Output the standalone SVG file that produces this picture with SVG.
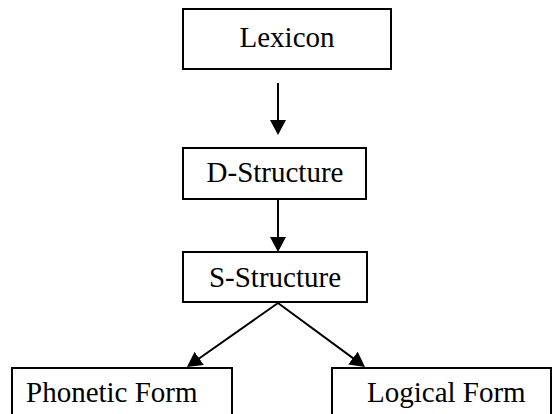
<svg xmlns="http://www.w3.org/2000/svg" width="553" height="414" viewBox="0 0 553 414">
  <style>
    .box { fill: #ffffff; stroke: #000000; stroke-width: 2; }
    .label { font-family: "Liberation Serif", "Times New Roman", serif; font-size: 29px; fill: #000000; }
    .edge { fill: none; stroke: #000000; stroke-width: 2; marker-end: url(#arrow); }
  </style>
  <defs>
    <!-- filled arrowhead; tip sits 4px past the line end -->
    <marker id="arrow" markerUnits="userSpaceOnUse" markerWidth="16" markerHeight="16" viewBox="0 0 16 16" refX="11" refY="8" orient="auto">
      <path d="M0,0 L15,8 L0,16 Z" fill="#000000"/>
    </marker>
  </defs>
  <rect width="553" height="414" fill="#ffffff"/>

  <g id="lexicon">
    <rect class="box" x="183" y="9" width="208" height="60"/>
    <text class="label" x="287" y="47" text-anchor="middle">Lexicon</text>
  </g>

  <g id="d-structure">
    <rect class="box" x="183" y="148" width="183" height="51"/>
    <text class="label" x="275" y="182" text-anchor="middle">D-Structure</text>
  </g>

  <g id="s-structure">
    <rect class="box" x="183" y="252" width="184" height="50"/>
    <text class="label" x="275" y="287" text-anchor="middle">S-Structure</text>
  </g>

  <g id="phonetic-form">
    <rect class="box" x="12" y="368" width="220" height="60"/>
    <text class="label" x="26" y="402">Phonetic Form</text>
  </g>

  <g id="logical-form">
    <rect class="box" x="332" y="368" width="219" height="60"/>
    <text class="label" x="367" y="402">Logical Form</text>
  </g>

  <g id="connectors">
    <line class="edge" x1="278" y1="83" x2="278" y2="131"/>
    <line class="edge" x1="278" y1="200" x2="278" y2="248"/>
    <line class="edge" x1="278" y1="303" x2="190.2" y2="364.7"/>
    <line class="edge" x1="278" y1="303" x2="361.8" y2="364.6"/>
  </g>
</svg>
